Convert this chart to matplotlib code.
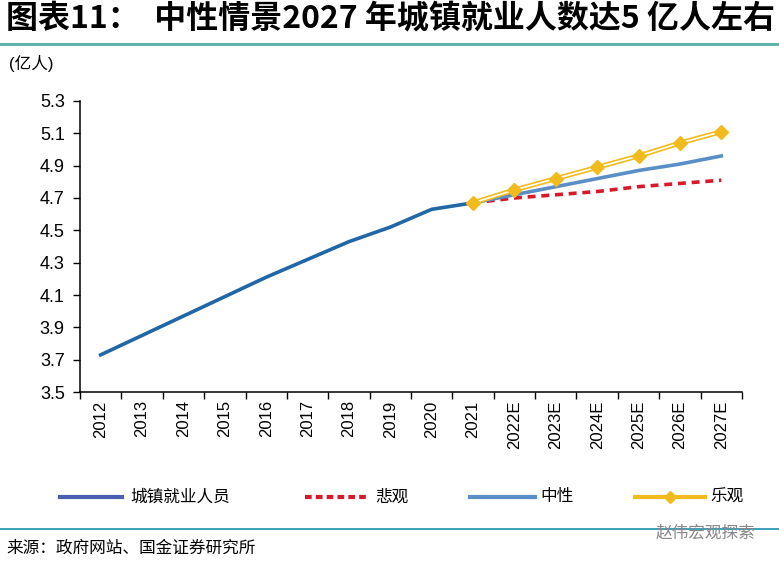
import matplotlib

matplotlib.use("Agg")
import matplotlib.pyplot as plt
from matplotlib.lines import Line2D

plt.rcParams["font.family"] = ["Liberation Sans", "Noto Sans CJK SC", "DejaVu Sans"]

years = ["2012", "2013", "2014", "2015", "2016", "2017", "2018", "2019", "2020", "2021",
         "2022E", "2023E", "2024E", "2025E", "2026E", "2027E"]
urban_employed = [3.73, 3.85, 3.97, 4.09, 4.21, 4.32, 4.43, 4.52, 4.63, 4.67]
forecast_years = years[9:]
pessimistic = [4.67, 4.70, 4.72, 4.74, 4.77, 4.79, 4.81]
neutral = [4.67, 4.72, 4.77, 4.82, 4.87, 4.91, 4.96]
optimistic = [4.67, 4.75, 4.82, 4.89, 4.96, 5.04, 5.11]
y_ticks = [3.5, 3.7, 3.9, 4.1, 4.3, 4.5, 4.7, 4.9, 5.1, 5.3]
legend_labels = ["城镇就业人员", "悲观", "中性", "乐观"]

C_MAIN = "#2166a6"
C_NEUTRAL = "#5a8ec6"
C_PESS = "#d7192a"
C_GOLD = "#f2bb1d"
C_RULE = "#5fb3ad"
W, H = 779.0, 567.0

fig = plt.figure(figsize=(7.79, 5.67), dpi=100)
ax = fig.add_axes([0.1027, 0.3086, 0.8498, 0.5133])

x_main = list(range(len(urban_employed)))
x_fc = list(range(9, 9 + len(forecast_years)))

ax.plot(x_fc, pessimistic, color=C_PESS, lw=2.6, ls=(0, (2.2, 1.6)), zorder=3)
ax.plot(x_fc, neutral, color=C_NEUTRAL, lw=2.6, zorder=4)
ax.plot(x_fc, optimistic, color=C_GOLD, lw=3.6, zorder=5, solid_capstyle="butt")
ax.plot(x_fc, optimistic, color="white", lw=1.2, zorder=6, solid_capstyle="butt")
ax.plot(x_fc, optimistic, ls="none", marker="D", ms=7, color=C_GOLD, mec=C_GOLD, zorder=7)
ax.plot(x_main, urban_employed, color=C_MAIN, lw=2.6, zorder=4)

ax.set_xlim(-0.5, len(years) - 0.5)
ax.set_ylim(3.5, 5.3)
ax.set_yticks(y_ticks)
ax.set_yticklabels([f"{v:.1f}" for v in y_ticks], fontsize=13)
ax.set_xticks([i - 0.5 for i in range(len(years) + 1)])
ax.set_xticklabels([])
ax.set_xticks(range(len(years)), minor=True)
ax.set_xticklabels(years, minor=True, rotation=90, fontsize=12)
ax.tick_params(axis="x", which="major", direction="out", length=5, width=1)
ax.tick_params(axis="x", which="minor", length=0, pad=6)
ax.tick_params(axis="y", direction="out", length=5, width=1, pad=6)
for side in ("top", "right"):
    ax.spines[side].set_visible(False)
for side in ("left", "bottom"):
    ax.spines[side].set_linewidth(1.1)

# title and rules
fig.text(0.008, 0.968, "图表11：  中性情景2027 年城镇就业人数达5 亿人左右", fontsize=23,
         fontweight="bold", style="italic", va="center", ha="left",
         family=["Noto Sans CJK SC", "DejaVu Sans"])
fig.add_artist(Line2D([0, 1], [0.922, 0.922], color=C_RULE, lw=2.2))
fig.text(0.012, 0.888, "(亿人)", fontsize=12, va="center", ha="left",
         family=["Liberation Sans", "Noto Sans CJK SC"])

# legend, laid out by hand
leg_y = 1 - 497 / H
seg = [(60, 122), (305, 368), (470, 535), (635, 705)]
text_x = [130, 375, 540, 710]
styles = [
    dict(color="#4a5fb0", lw=3),
    dict(color=C_PESS, lw=3, ls=(0, (1.6, 1.0))),
    dict(color=C_NEUTRAL, lw=3),
    dict(color=C_GOLD, lw=3),
]
for (x0, x1), tx, st, lab in zip(seg, text_x, styles, legend_labels):
    fig.add_artist(Line2D([x0 / W, x1 / W], [leg_y, leg_y], **st))
    fig.text(tx / W, leg_y, lab, fontsize=12, va="center", ha="left",
             family=["Noto Sans CJK SC"])
fig.add_artist(Line2D([(seg[3][0] + seg[3][1]) / 2 / W], [leg_y], marker="D", ms=6,
                      color=C_GOLD, ls="none"))

fig.add_artist(Line2D([0, 1], [0.067, 0.067], color="#3b9fb5", lw=1.4))
fig.text(0.008, 0.033, "来源：政府网站、国金证券研究所", fontsize=12, va="center", ha="left",
         family=["Noto Sans CJK SC"])
fig.text(0.97, 0.06, "赵伟宏观探索", fontsize=12, va="center", ha="right", color="#888888",
         family=["Noto Sans CJK SC"])

fig.savefig("out.png", dpi=100)
